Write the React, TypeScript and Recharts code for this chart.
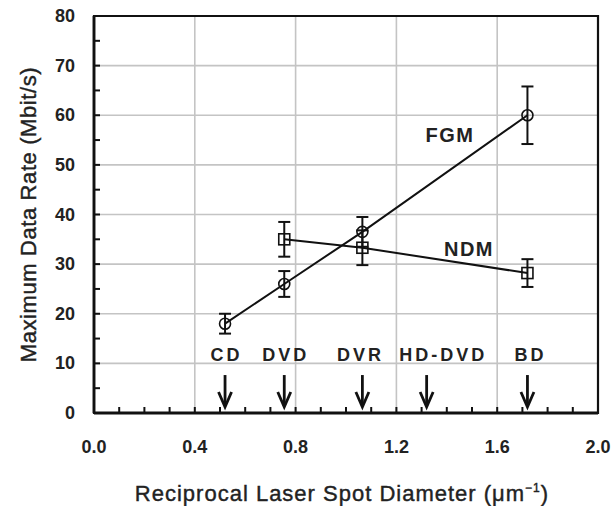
import React from 'react';
import {
  LineChart, Line, XAxis, YAxis, CartesianGrid, ErrorBar, Scatter, ReferenceArea, Label,
} from 'recharts';

// ---- data ----
const formats = ['CD', 'DVD', 'DVR', 'HD-DVD', 'BD'];
const formatX = [0.52, 0.755, 1.065, 1.32, 1.72];
const formatLabelX = [0.52, 0.755, 1.052, 1.38, 1.726];
const formatLabelY = [10.5, 10.5, 10.5, 10.5, 10.5];
const arrowTipY = [1.2, 1.2, 1.2, 1.2, 1.2];

const fgmX = [0.52, 0.755, 1.065, 1.72];
const fgmY = [18, 26, 36.5, 60];
const fgmErr = [2, 2.6, 3, 5.8];

const ndmX = [0.755, 1.065, 1.72];
const ndmY = [35, 33.3, 28.2];
const ndmErr = [3.5, 3.5, 2.8];

const seriesLabels = ['FGM', 'NDM'];
const seriesLabelX = [1.409, 1.484];
const seriesLabelY = [54.6, 31.7];

const xTicks = [0, 0.1, 0.2, 0.3, 0.4, 0.5, 0.6, 0.7, 0.8, 0.9, 1.0, 1.1, 1.2, 1.3, 1.4, 1.5, 1.6, 1.7, 1.8, 1.9, 2.0];
const xMajor = [0, 0.4, 0.8, 1.2, 1.6, 2.0];
const yTicks = [0, 5, 10, 15, 20, 25, 30, 35, 40, 45, 50, 55, 60, 65, 70, 75, 80];
const yMajor = [0, 10, 20, 30, 40, 50, 60, 70, 80];

const fgmData = fgmX.map((x, i) => ({ x, y: fgmY[i], err: fgmErr[i] }));
const ndmData = ndmX.map((x, i) => ({ x, y: ndmY[i], err: ndmErr[i] }));
const arrowData = formats.map((name, i) => ({ x: formatX[i], y: arrowTipY[i], name }));
const formatLabelData = formats.map((name, i) => ({ x: formatLabelX[i], y: formatLabelY[i], name }));
const seriesLabelData = seriesLabels.map((name, i) => ({ x: seriesLabelX[i], y: seriesLabelY[i], name }));

const FONT = '"Liberation Sans", Arial, Helvetica, sans-serif';
const INK = '#111';

const isMajor = (v: number, list: number[]) => list.some((m) => Math.abs(m - v) < 1e-6);

const XTick = (props: any) => {
  const { x, y, payload } = props;
  const v = payload.value as number;
  return (
    <g>
      <line x1={x} x2={x} y1={y} y2={y - 6} stroke={INK} strokeWidth={2} />
      {isMajor(v, xMajor) && (
        <text x={x} y={y + 40} textAnchor="middle" fontFamily={FONT} fontWeight="bold" fontSize={18} fill="#222">
          {v.toFixed(1)}
        </text>
      )}
    </g>
  );
};

const YTick = (props: any) => {
  const { x, y, payload } = props;
  const v = payload.value as number;
  return (
    <g>
      <line x1={x} x2={x + 6} y1={y} y2={y} stroke={INK} strokeWidth={2} />
      {isMajor(v, yMajor) && (
        <text x={x - 19} y={y + 6} textAnchor="end" fontFamily={FONT} fontWeight="bold" fontSize={18} fill="#222">
          {v}
        </text>
      )}
    </g>
  );
};

const SquareDot = (props: any) => {
  const { cx, cy } = props;
  if (cx == null || cy == null) return null;
  return <rect x={cx - 5.5} y={cy - 5.5} width={11} height={11} fill="none" stroke={INK} strokeWidth={1.6} />;
};

const CircleDot = (props: any) => {
  const { cx, cy } = props;
  if (cx == null || cy == null) return null;
  return <circle cx={cx} cy={cy} r={5.5} fill="none" stroke={INK} strokeWidth={1.6} />;
};

const ArrowShape = (props: any) => {
  const { cx, cy } = props;
  return (
    <g>
      <line x1={cx} x2={cx} y1={cy - 32} y2={cy - 3} stroke={INK} strokeWidth={2.8} />
      <path d={`M ${cx - 6.5} ${cy - 15} L ${cx} ${cy} L ${cx + 6.5} ${cy - 15}`} fill="none" stroke={INK}
        strokeWidth={2.8} strokeLinejoin="miter" />
    </g>
  );
};

const FormatLabelShape = (props: any) => {
  const { cx, cy, payload } = props;
  return (
    <text x={cx + 1.5} y={cy} textAnchor="middle" fontFamily={FONT} fontWeight="bold" fontSize={18}
      letterSpacing={3} fill="#222">
      {payload.name}
    </text>
  );
};

const SeriesLabelShape = (props: any) => {
  const { cx, cy, payload } = props;
  return (
    <text x={cx + 1} y={cy} textAnchor="middle" fontFamily={FONT} fontWeight="bold" fontSize={20}
      letterSpacing={1.5} fill="#222">
      {payload.name}
    </text>
  );
};

const YTitle = (props: any) => {
  const { viewBox } = props;
  const cx = viewBox.x - 6;
  const cy = viewBox.y + viewBox.height / 2;
  return (
    <text x={cx} y={cy} transform={`rotate(-90 ${cx} ${cy})`} textAnchor="middle" dominantBaseline="central"
      fontFamily={FONT} fontSize={22} letterSpacing={0.6} fill="#222" stroke="#222" strokeWidth={0.4}>
      Maximum Data Rate (Mbit/s)
    </text>
  );
};

const XTitle = (props: any) => {
  const { viewBox } = props;
  const cx = viewBox.x + viewBox.width / 2 - 4;
  const y = viewBox.y + 88;
  return (
    <text x={cx} y={y} textAnchor="middle" fontFamily={FONT} fontSize={22} letterSpacing={1} fill="#222"
      stroke="#222" strokeWidth={0.4}>
      Reciprocal Laser Spot Diameter (μm
      <tspan dy={-9} fontSize={12}>−1</tspan>
      <tspan dy={9}>)</tspan>
    </text>
  );
};

export default function App() {
  return (
    <div style={{ position: 'absolute', left: 0, top: 0, width: 613, height: 506, background: '#fff' }}>
      <LineChart width={613} height={506} margin={{ top: 16, right: 15, bottom: 43, left: 34 }}>
        <CartesianGrid horizontalValues={yMajor} verticalValues={xMajor} stroke="#c4c4c4" strokeWidth={1.6} />
        <ReferenceArea x1={0} x2={2} y1={0} y2={80} fill="none" stroke={INK} strokeWidth={2.2} ifOverflow="visible" />
        <XAxis type="number" dataKey="x" domain={[0, 2]} ticks={xTicks} interval={0} height={50}
          tickSize={0} tickMargin={0} tickLine={false} axisLine={{ stroke: INK, strokeWidth: 2.8 }}
          tick={<XTick />} allowDuplicatedCategory={false}>
          <Label content={<XTitle />} />
        </XAxis>
        <YAxis type="number" dataKey="y" domain={[0, 80]} ticks={yTicks} interval={0} width={60}
          tickSize={0} tickMargin={0} tickLine={false} axisLine={{ stroke: INK, strokeWidth: 2.8 }}
          tick={<YTick />}>
          <Label content={<YTitle />} />
        </YAxis>
        <Line data={fgmData} dataKey="y" type="linear" stroke={INK} strokeWidth={2} dot={<CircleDot />}
          activeDot={false} isAnimationActive={false}>
          <ErrorBar dataKey="err" width={6} stroke={INK} strokeWidth={2} direction="y" />
        </Line>
        <Line data={ndmData} dataKey="y" type="linear" stroke={INK} strokeWidth={2} dot={<SquareDot />}
          activeDot={false} isAnimationActive={false}>
          <ErrorBar dataKey="err" width={6} stroke={INK} strokeWidth={2} direction="y" />
        </Line>
        <Scatter data={arrowData} dataKey="y" shape={<ArrowShape />} isAnimationActive={false} />
        <Scatter data={formatLabelData} dataKey="y" shape={<FormatLabelShape />} isAnimationActive={false} />
        <Scatter data={seriesLabelData} dataKey="y" shape={<SeriesLabelShape />} isAnimationActive={false} />
      </LineChart>
    </div>
  );
}
